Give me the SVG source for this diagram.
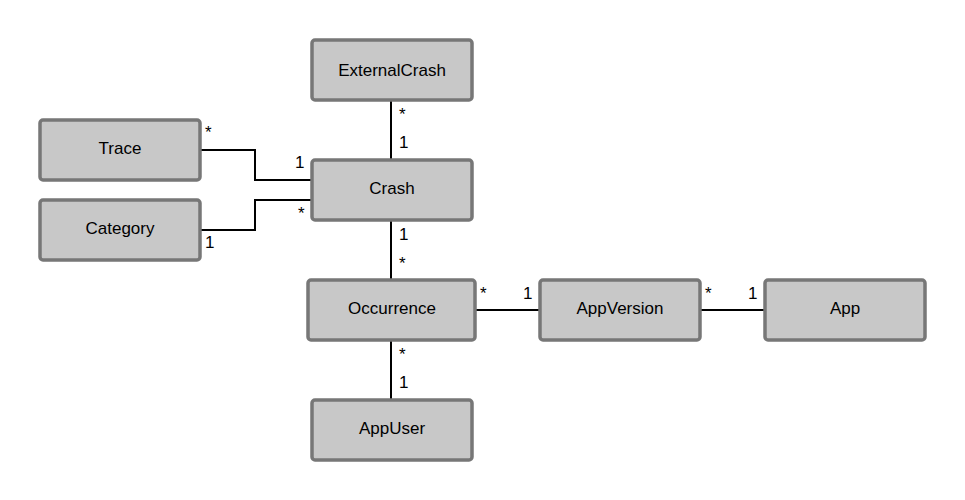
<svg xmlns="http://www.w3.org/2000/svg" width="965" height="500" viewBox="0 0 965 500">
<style>
.n rect{fill:#c8c8c8;stroke:#777;stroke-width:3.5}
text{font-family:"Liberation Sans",Arial,sans-serif;font-size:17px;fill:#000}
.n text{text-anchor:middle}
.e path{fill:none;stroke:#000;stroke-width:2}
</style>
<rect width="965" height="500" fill="#fff"/>
<g class="e">
<path d="M391,100V160"/>
<path d="M200,150H255V180H312"/>
<path d="M200,230H255V200H312"/>
<path d="M391,220V280"/>
<path d="M475,310H540"/>
<path d="M700,310H765"/>
<path d="M391,340V400"/>
<text x="399" y="120">*</text><text x="399" y="148">1</text>
<text x="205" y="138">*</text><text x="295" y="168">1</text>
<text x="298" y="219">*</text><text x="205" y="248">1</text>
<text x="399" y="240">1</text><text x="399" y="269">*</text>
<text x="480" y="299">*</text><text x="523" y="299">1</text>
<text x="705" y="299">*</text><text x="748" y="299">1</text>
<text x="399" y="360">*</text><text x="399" y="388">1</text>
</g>
<g id="ExternalCrash" class="n"><rect x="312" y="40" width="160" height="60" rx="3"/><text x="392" y="76">ExternalCrash</text></g>
<g id="Trace" class="n"><rect x="40" y="120" width="160" height="60" rx="3"/><text x="120" y="154">Trace</text></g>
<g id="Category" class="n"><rect x="40" y="200" width="160" height="60" rx="3"/><text x="120" y="234">Category</text></g>
<g id="Crash" class="n"><rect x="312" y="160" width="160" height="60" rx="3"/><text x="392" y="194">Crash</text></g>
<g id="Occurrence" class="n"><rect x="308" y="280" width="167" height="60" rx="3"/><text x="392" y="314">Occurrence</text></g>
<g id="AppVersion" class="n"><rect x="540" y="280" width="160" height="60" rx="3"/><text x="620" y="314">AppVersion</text></g>
<g id="App" class="n"><rect x="765" y="280" width="160" height="60" rx="3"/><text x="845" y="314">App</text></g>
<g id="AppUser" class="n"><rect x="312" y="400" width="160" height="60" rx="3"/><text x="392" y="434">AppUser</text></g>
</svg>
